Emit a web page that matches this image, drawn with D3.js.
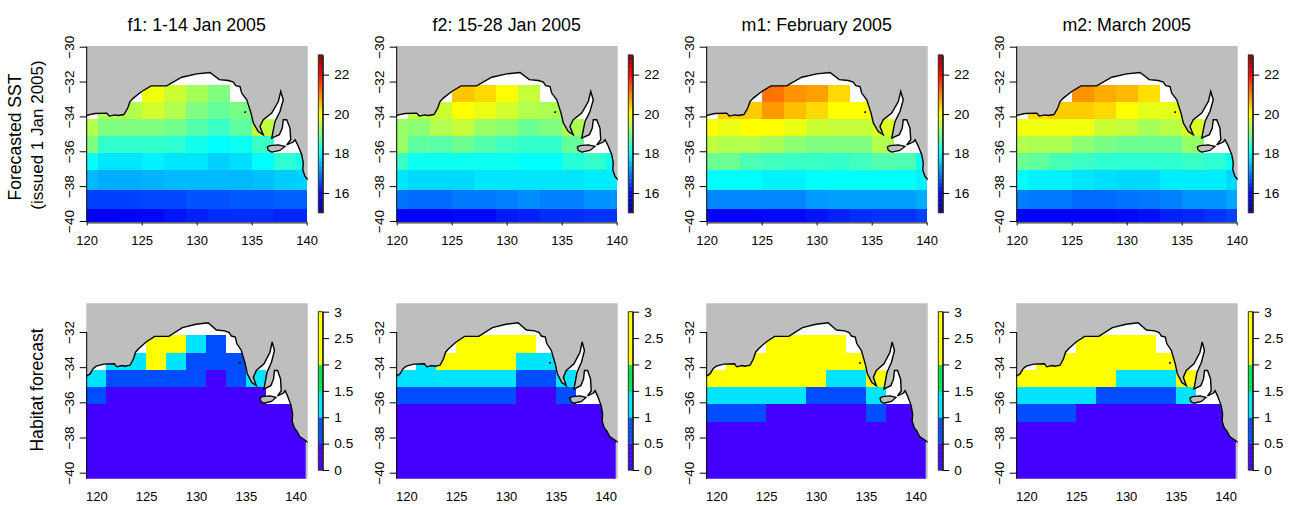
<!DOCTYPE html>
<html>
<head>
<meta charset="utf-8">
<script src="https://cdn.jsdelivr.net/npm/d3@7"></script>
<style>
  html, body { margin: 0; padding: 0; background: #fff; }
  svg text { font-family: "Liberation Sans", Arial, sans-serif; fill: #000; }
</style>
</head>
<body>
<div id="chart"></div>
<script>
// grid cell edges shared by all panels
const sstLonEdges = [120, 121, 123, 125, 127, 129, 131, 133, 135, 137, 139, 140];
const habLonEdges = [119, 121, 123, 125, 127, 129, 131, 133, 135, 137, 139, 141];
const sstLatEdges = [-32.2, -33.2, -34.15, -35.1, -36.07, -37.1, -38.2, -39.3, -40.07];
const habLatEdges = [-32.2, -33.2, -34.15, -35.1, -36.07, -37.1, -38.2, -39.3, -40.34];

const n = null;

// SST forecast, rows north to south
const sstF1 = [
  [n, n, n, 19.9, 19.6, 19.3, 19.0, n, n, n, n],
  [n, 19.4, 19.4, 19.65, 19.4, 19.0, 18.8, 18.95, n, n, n],
  [19.4, 19.0, 19.0, 19.0, 18.9, 18.65, 18.45, 18.75, 19.5, n, n],
  [19.0, 18.4, 18.4, 18.4, 18.35, 18.15, 18.0, 18.1, 18.45, n, n],
  [18.05, 17.8, 17.8, 17.9, 17.8, 17.8, 17.65, 17.75, 18.0, 18.35, 18.2],
  [17.45, 17.35, 17.35, 17.4, 17.45, 17.45, 17.45, 17.45, 17.5, 17.6, 17.65],
  [16.5, 16.5, 16.5, 16.55, 16.55, 16.65, 16.65, 16.7, 16.7, 16.75, 16.75],
  [15.95, 15.95, 16.0, 16.05, 16.15, 16.25, 16.35, 16.35, 16.35, 16.3, 16.3]
];
const sstF2 = [
  [n, n, n, 20.45, 20.3, 20.0, 19.55, n, n, n, n],
  [n, 19.5, 19.6, 20.0, 19.85, 19.65, 19.4, 19.35, n, n, n],
  [19.2, 19.1, 19.4, 19.55, 19.2, 19.1, 18.85, 19.0, 19.35, n, n],
  [19.2, 18.75, 18.7, 18.85, 18.65, 18.5, 18.4, 18.4, 18.8, n, n],
  [18.45, 18.1, 18.1, 18.1, 18.1, 18.1, 18.0, 18.0, 18.3, 18.4, 18.1],
  [17.8, 17.7, 17.7, 17.7, 17.8, 17.8, 17.8, 17.8, 17.8, 17.85, 17.85],
  [16.9, 16.85, 16.85, 16.95, 16.95, 17.0, 17.1, 17.0, 17.0, 17.15, 17.15],
  [16.0, 16.0, 16.0, 16.05, 16.05, 16.2, 16.25, 16.35, 16.35, 16.4, 16.4]
];
const sstM1 = [
  [n, n, n, 21.1, 20.85, 20.75, 20.3, n, n, n, n],
  [n, 20.4, 20.4, 20.8, 20.5, 20.3, 20.0, 20.0, n, n, n],
  [20.0, 19.85, 20.0, 20.0, 19.85, 19.6, 19.55, 19.55, 19.75, n, n],
  [19.5, 19.4, 19.4, 19.3, 19.1, 19.0, 19.0, 19.0, 19.4, n, n],
  [18.85, 18.85, 18.6, 18.5, 18.45, 18.45, 18.4, 18.5, 18.65, 18.6, 18.15],
  [18.0, 18.0, 18.0, 17.9, 17.9, 18.0, 18.0, 18.0, 18.0, 18.0, 17.9],
  [17.05, 17.05, 17.05, 17.05, 17.05, 17.2, 17.25, 17.25, 17.25, 17.25, 17.35],
  [16.0, 16.0, 16.0, 16.05, 16.05, 16.15, 16.25, 16.35, 16.4, 16.4, 16.5]
];
const sstM2 = [
  [n, n, n, 20.85, 20.65, 20.55, 20.25, n, n, n, n],
  [n, 20.3, 20.4, 20.4, 20.3, 20.0, 19.8, 19.8, n, n, n],
  [19.9, 19.9, 19.9, 19.9, 19.6, 19.55, 19.3, 19.45, 19.7, n, n],
  [19.4, 19.35, 19.35, 19.1, 18.95, 18.85, 18.85, 18.85, 19.2, n, n],
  [18.85, 18.75, 18.55, 18.45, 18.35, 18.35, 18.35, 18.35, 18.45, 18.35, 18.1],
  [18.0, 17.9, 17.9, 17.8, 17.75, 17.7, 17.7, 17.85, 17.85, 17.85, 17.7],
  [17.0, 16.95, 16.95, 16.85, 16.85, 16.9, 16.95, 17.0, 17.15, 17.15, 17.3],
  [16.0, 16.0, 16.0, 16.0, 16.0, 16.05, 16.1, 16.25, 16.3, 16.4, 16.5]
];

// habitat forecast classes, rows north to south
const open0 = [.25, .25, .25, .25, .25, .25, .25, .25, .25, .25, .25];
const habF1 = [
  [n, n, n, 2.25, 2.25, 1.25, .75, n, n, n, n],
  [n, 1.25, 1.25, 2.25, 1.25, .75, .75, .75, n, n, n],
  [1.25, .75, .75, .75, .75, .75, .25, .75, 1.25, n, n],
  [.75, .25, .25, .25, .25, .25, .25, .25, .25, n, n],
  open0, open0, open0, open0
];
const habF2 = [
  [n, n, n, 2.25, 2.25, 2.25, 2.25, n, n, n, n],
  [n, 1.25, 2.25, 2.25, 2.25, 2.25, 1.25, 1.25, n, n, n],
  [1.25, 1.25, 1.25, 1.25, 1.25, 1.25, .75, .75, 1.25, n, n],
  [.75, .75, .75, .75, .75, .75, .25, .25, .75, n, n],
  open0, open0, open0, open0
];
const habM1 = [
  [n, n, n, 2.25, 2.25, 2.25, 2.25, n, n, n, n],
  [n, 2.25, 2.25, 2.25, 2.25, 2.25, 2.25, 2.25, n, n, n],
  [2.25, 2.25, 2.25, 2.25, 2.25, 2.25, 1.25, 1.25, 2.25, n, n],
  [1.25, 1.25, 1.25, 1.25, 1.25, .75, .75, .75, 1.25, n, n],
  [.75, .75, .75, .25, .25, .25, .25, .25, .75, .25, .25],
  open0, open0, open0
];
const habM2 = [
  [n, n, n, 2.25, 2.25, 2.25, 2.25, n, n, n, n],
  [n, 2.25, 2.25, 2.25, 2.25, 2.25, 2.25, 2.25, n, n, n],
  [2.25, 2.25, 2.25, 2.25, 2.25, 1.25, 1.25, 1.25, 2.25, n, n],
  [1.25, 1.25, 1.25, 1.25, .75, .75, .75, .75, 1.25, n, n],
  [.75, .75, .75, .25, .25, .25, .25, .25, .25, .25, .25],
  open0, open0, open0
];

const titles = ["f1: 1-14 Jan 2005", "f2: 15-28 Jan 2005", "m1: February 2005", "m2: March 2005"];
const sstPanels = [sstF1, sstF2, sstM1, sstM2];
const habPanels = [habF1, habF2, habM1, habM2];

// tick labels
const xTicks = [120, 125, 130, 135, 140];
const sstYTicks = [-30, -32, -34, -36, -38, -40];
const habYTicks = [-32, -34, -36, -38, -40];
const sstBarTicks = [16, 18, 20, 22];
const habBarTicks = [0, 0.5, 1, 1.5, 2, 2.5, 3];

// South Australian coast, traced west to east
const coastLon = [118.5, 119.0, 119.35, 119.7, 120.0, 120.75, 121.82, 122.05, 122.57, 122.87, 123.39, 123.73, 123.94, 124.24, 125.0, 125.85, 127.27, 128.64, 130.0, 131.21, 132.05, 132.87, 133.33, 133.55, 133.94, 134.09, 134.55, 134.94, 135.15, 135.6, 136.05, 135.75, 136.05, 136.82, 137.42, 137.64, 137.87, 137.57, 137.12, 136.82, 137.51, 137.78, 137.87, 138.18, 138.48, 138.55, 138.18, 138.78, 138.94, 139.18, 139.55, 139.69, 139.64, 139.85, 140.12, 140.4, 140.8, 141.3];
const coastLat = [-34.55, -34.5, -34.4, -34.07, -33.94, -33.83, -33.81, -33.98, -33.91, -33.95, -33.89, -33.52, -33.15, -32.95, -32.57, -32.25, -32.25, -31.75, -31.56, -31.48, -31.89, -31.94, -32.03, -32.23, -32.29, -32.66, -33.05, -33.81, -34.38, -34.87, -35.05, -34.58, -34.19, -33.81, -33.15, -32.57, -33.05, -33.72, -34.29, -35.24, -35.05, -34.67, -34.19, -34.19, -34.67, -35.34, -35.63, -35.47, -35.34, -35.63, -36.2, -36.66, -37.06, -37.44, -37.63, -37.95, -38.1, -38.3];
// Kangaroo Island
const islandLon = [136.42, 136.66, 137.42, 138.03, 137.57, 136.82, 136.51];
const islandLat = [-35.76, -35.67, -35.63, -35.72, -35.95, -36.05, -35.95];
// small islet off Eyre Peninsula
const isletLon = [134.38, 134.44];
const isletLat = [-33.8, -33.7];

const svg = d3.select("#chart").append("svg")
  .attr("width", 1292)
  .attr("height", 505)
  .style("display", "block");

const sstColor = d3.scaleLinear()
  .domain([15, 16, 18, 20, 22, 23])
  .range(["#00008f", "#0000ff", "#00ffff", "#ffff00", "#ff0000", "#800000"]);

const habColor = d3.scaleThreshold()
  .domain([0.5, 1, 1.5, 2])
  .range(["#4400ff", "#004cff", "#00e5ff", "#00e64d", "#ffff00"]);

const line = d3.line();

function drawPanel(i, cfg) {
  const left = 86.7 + i * 310;
  const g = svg.append("g").attr("transform", `translate(${left},0)`);

  const x = d3.scaleLinear().domain(cfg.lonDomain).range(cfg.xRange);
  const y = d3.scaleLinear().domain([-30, -40]).range(cfg.yRange);
  const id = "clip" + cfg.name + i;

  g.append("clipPath").attr("id", id).append("rect")
    .attr("x", -0.5)
    .attr("y", cfg.top)
    .attr("width", 221.5)
    .attr("height", cfg.bottom - cfg.top);

  const map = g.append("g").attr("clip-path", `url(#${id})`);

  // cells
  cfg.values.forEach(function (row, r) {
    row.forEach(function (v, c) {
      if (v === null) return;
      map.append("rect")
        .attr("x", x(cfg.lonEdges[c]))
        .attr("y", y(cfg.latEdges[r]))
        .attr("width", x(cfg.lonEdges[c + 1]) - x(cfg.lonEdges[c]))
        .attr("height", y(cfg.latEdges[r + 1]) - y(cfg.latEdges[r]))
        .attr("shape-rendering", "crispEdges")
        .attr("fill", cfg.color(v));
    });
  });

  // land, closed round the top of the plot and the east strip
  const coast = coastLon.map((d, k) => [x(d), y(coastLat[k])]);
  const land = coast.concat([[x(141), y(-38.3)], [x(141), y(-41)], [x(144), y(-41)], [x(144), y(-29)], [x(118.5), y(-29)]]);
  map.append("path").attr("d", line(land) + "Z").attr("fill", "#bebebe");
  map.append("path").attr("d", line(coast)).attr("fill", "none").attr("stroke", "#000").attr("stroke-width", 1.4);

  map.append("path")
    .attr("d", line(islandLon.map((d, k) => [x(d), y(islandLat[k])])) + "Z")
    .attr("fill", "#bebebe").attr("stroke", "#000").attr("stroke-width", 1.3);
  map.append("path")
    .attr("d", line(isletLon.map((d, k) => [x(d), y(isletLat[k])])))
    .attr("fill", "none").attr("stroke", "#000").attr("stroke-width", 1.6);

  // axes
  const xAxis = g.append("g")
    .attr("transform", `translate(0,${cfg.bottom})`)
    .call(d3.axisBottom(x).tickValues(xTicks).tickFormat(d3.format("d")).tickSize(cfg.xTickSize).tickSizeOuter(0));
  if (!cfg.xLine) xAxis.select(".domain").remove();
  xAxis.selectAll("text")
    .attr("y", cfg.xLabelY - cfg.bottom)
    .attr("dy", 0)
    .style("font-size", "13px");

  const yAxis = g.append("g")
    .call(d3.axisLeft(y).tickValues(cfg.yTicks).tickFormat(d3.format("d")).tickSize(7).tickSizeOuter(0));
  yAxis.select(".domain").attr("d", `M0,${cfg.yLineTop}V${cfg.bottom}`);
  yAxis.selectAll("text")
    .attr("x", null).attr("y", null).attr("dy", null)
    .attr("transform", "translate(-13,0) rotate(-90)")
    .attr("text-anchor", "middle")
    .style("font-size", "13.5px");
  g.selectAll(".domain, .tick line").attr("stroke", "#000");

  // colour bar
  const barY = d3.scaleLinear().domain(cfg.barDomain).range(cfg.barRange);
  const bar = g.append("g").attr("transform", "translate(231.6,0)");
  const steps = d3.range(cfg.barDomain[0], cfg.barDomain[1], (cfg.barDomain[1] - cfg.barDomain[0]) / 120);
  bar.selectAll("rect").data(steps).join("rect")
    .attr("x", 0)
    .attr("width", 4.4)
    .attr("y", d => barY(d + (cfg.barDomain[1] - cfg.barDomain[0]) / 120))
    .attr("height", (cfg.barRange[0] - cfg.barRange[1]) / 120 + 0.4)
    .attr("fill", d => cfg.color(d));
  bar.append("rect")
    .attr("x", 0).attr("y", cfg.barRange[1])
    .attr("width", 4.4).attr("height", cfg.barRange[0] - cfg.barRange[1])
    .attr("fill", "none").attr("stroke", "#333").attr("stroke-width", 1);
  const barAxis = bar.append("g")
    .attr("transform", "translate(4.4,0)")
    .call(d3.axisRight(barY).tickValues(cfg.barTicks).tickFormat(d3.format("")).tickSize(6.5).tickSizeOuter(0));
  barAxis.select(".domain").attr("stroke", "#000");
  barAxis.selectAll("line").attr("stroke", "#000");
  barAxis.selectAll("text")
    .attr("x", 11.6)
    .style("font-size", "13.6px");
}

titles.forEach(function (t, i) {
  svg.append("text")
    .attr("x", 196.7 + i * 310)
    .attr("y", 31)
    .attr("text-anchor", "middle")
    .style("font-size", "17.8px")
    .text(t);

  drawPanel(i, {
    name: "sst",
    values: sstPanels[i],
    lonEdges: sstLonEdges,
    latEdges: sstLatEdges,
    color: sstColor,
    lonDomain: [120, 140],
    xRange: [0, 220],
    yRange: [46.7, 221],
    top: 46,
    bottom: 222.4,
    yLineTop: 46.7,
    xTickSize: 3,
    xLine: true,
    xLabelY: 245,
    yTicks: sstYTicks,
    barDomain: [15, 23],
    barRange: [212.7, 54.9],
    barTicks: sstBarTicks
  });

  drawPanel(i, {
    name: "hab",
    values: habPanels[i],
    lonEdges: habLonEdges,
    latEdges: habLatEdges,
    color: habColor,
    lonDomain: [120, 140],
    xRange: [9.6, 209],
    yRange: [296.8, 472.7],
    top: 303.3,
    bottom: 478.7,
    yLineTop: 332,
    xTickSize: 0,
    xLine: false,
    xLabelY: 500.7,
    yTicks: habYTicks,
    barDomain: [0, 3],
    barRange: [470, 311.7],
    barTicks: habBarTicks
  });
});

// row labels
function rowLabel(text, xPos, yPos, size) {
  svg.append("text")
    .attr("transform", `translate(${xPos},${yPos}) rotate(-90)`)
    .attr("text-anchor", "middle")
    .style("font-size", size + "px")
    .text(text);
}
rowLabel("Forecasted SST", 21, 137, 17.6);
rowLabel("(issued 1 Jan 2005)", 43, 135, 17);
rowLabel("Habitat forecast", 43, 390, 17.6);
</script>
</body>
</html>
